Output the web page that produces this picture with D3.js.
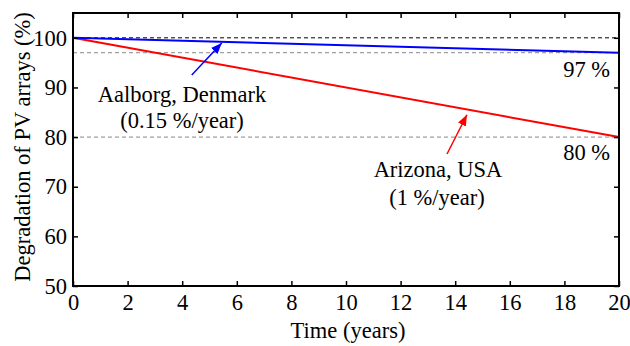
<!DOCTYPE html>
<html><head><meta charset="utf-8">
<script src="https://cdn.jsdelivr.net/npm/d3@7"></script>
<style>body{margin:0;background:#fff}svg{display:block}</style>
</head><body>
<svg id="c" width="630" height="346"></svg>
<script>
const years = [0, 20];
const aalborg = [100, 97];
const arizona = [100, 80];
const xTicks = [0,2,4,6,8,10,12,14,16,18,20];
const yTicks = [50,60,70,80,90,100];
const refLines = [{v:100,c:"#000"},{v:97,c:"#888"},{v:80,c:"#888"}];

const FF = '"Liberation Serif"';
const svg = d3.select("#c");
const L=73,R=619,T=13,B=286;
const x = d3.scaleLinear().domain([0,20]).range([L,R]);
const y = d3.scaleLinear().domain([50,105]).range([B,T]);
const fs = 22.5;

refLines.forEach(r=>{
  svg.append("line").attr("x1",x(0)).attr("x2",x(20)).attr("y1",y(r.v)).attr("y2",y(r.v))
    .attr("stroke",r.c).attr("stroke-width",1).attr("stroke-dasharray","4,3");
});

const line = d3.line().x((d,i)=>x(years[i])).y(d=>y(d));
svg.append("path").datum(arizona).attr("d",line).attr("fill","none").attr("stroke","#f00").attr("stroke-width",2);
svg.append("path").datum(aalborg).attr("d",line).attr("fill","none").attr("stroke","#00f").attr("stroke-width",2);

const ax = (g,axis)=>{g.call(axis);g.select(".domain").remove();g.selectAll("line").attr("stroke","#000").attr("stroke-width",1.5);g.selectAll("text").style("font-family",FF).style("font-size",fs+"px").attr("fill","#000");};
svg.append("g").attr("transform",`translate(0,${B})`).call(g=>ax(g,d3.axisBottom(x).tickValues(xTicks).tickSizeInner(-5).tickPadding(8)));
svg.append("g").attr("transform",`translate(${L},0)`).call(g=>ax(g,d3.axisLeft(y).tickValues(yTicks).tickSizeInner(-5).tickPadding(6)));
svg.append("g").attr("transform",`translate(0,${T})`).call(g=>{ax(g,d3.axisTop(x).tickValues(xTicks).tickSizeInner(-5));g.selectAll("text").remove();});
svg.append("g").attr("transform",`translate(${R},0)`).call(g=>{ax(g,d3.axisRight(y).tickValues(yTicks).tickSizeInner(-5));g.selectAll("text").remove();});
svg.append("rect").attr("x",L).attr("y",T).attr("width",R-L).attr("height",B-T).attr("fill","none").attr("stroke","#000").attr("stroke-width",2);

const defs = svg.append("defs");
[["ab","#00f"],["ar","#f00"]].forEach(([id,c])=>{
  defs.append("marker").attr("id",id).attr("viewBox","0 0 10 8").attr("refX",10).attr("refY",4)
    .attr("markerWidth",11).attr("markerHeight",9).attr("orient","auto").attr("markerUnits","userSpaceOnUse")
    .append("path").attr("d","M0,0L10,4L0,8z").attr("fill",c);
});
svg.append("line").attr("x1",x(4.35)).attr("y1",y(92.5)).attr("x2",x(5.45)).attr("y2",y(98.95))
  .attr("stroke","#00f").attr("stroke-width",1.5).attr("marker-end","url(#ab)");
svg.append("line").attr("x1",x(13.7)).attr("y1",y(76.6)).attr("x2",x(14.43)).attr("y2",y(84.5))
  .attr("stroke","#f00").attr("stroke-width",1.5).attr("marker-end","url(#ar)");

const txt=(s,px,py,anchor)=>svg.append("text").attr("x",px).attr("y",py).style("font-family",FF).style("font-size",fs+"px").attr("text-anchor",anchor||"middle").attr("fill","#000").text(s);
txt("Aalborg, Denmark",182,102);
txt("(0.15 %/year)",182,128);
txt("Arizona, USA",438,177);
txt("(1 %/year)",437,205);
txt("97 %",610,77,"end");
txt("80 %",610,160,"end");

txt("Time (years)",348,338);
svg.append("text").attr("transform",`translate(30,147) rotate(-90)`).style("font-family",FF).style("font-size",fs+"px").attr("text-anchor","middle").attr("fill","#000").text("Degradation of PV arrays (%)");
</script>
</body></html>
